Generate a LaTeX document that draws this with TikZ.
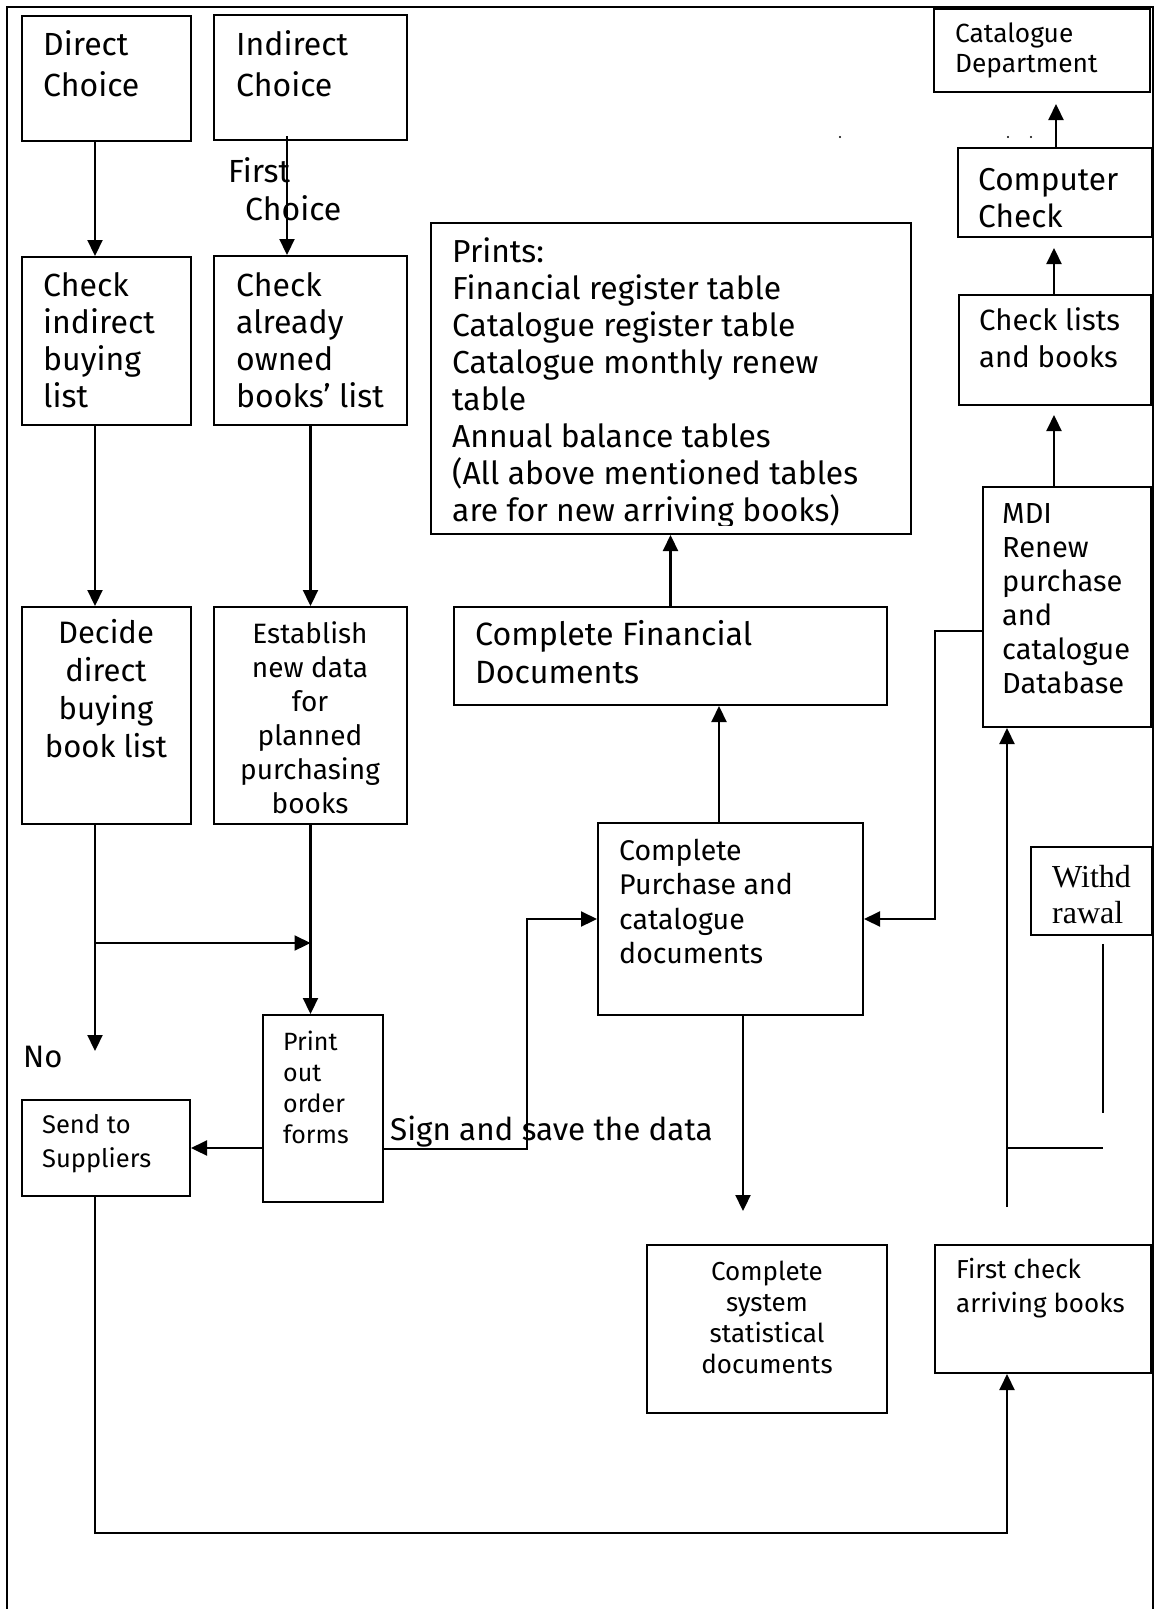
\documentclass[tikz,border=0pt]{standalone}
\usepackage{fontspec}
\setmainfont{Fira Sans}
\newfontfamily\tnr{Liberation Serif}
\usetikzlibrary{arrows.meta,fit,calc}
\newcommand\TL[6]{%
\node[anchor=north west, inner sep=0pt, align=left, font=\fontsize{#4}{#5}\selectfont] (#1) at (#2,{#3-0.7*#5}) {\strut #6};}
\newcommand\TC[6]{%
\node[anchor=north, inner sep=0pt, align=center, font=\fontsize{#4}{#5}\selectfont] (#1) at (#2,{#3-0.7*#5}) {\strut #6};}
\newcommand\BX[5]{\node[boxx, fit={(#2,#3) (#4,#5)}] (#1) {};}
\begin{document}
\begin{tikzpicture}[x=1pt,y=-1pt,
  boxx/.style={draw, line width=2pt, inner sep=0pt},
  arr/.style={line width=2.2pt, -{Triangle[length=16pt,width=15pt]}},
  thinl/.style={line width=1.4pt}]
\useasboundingbox (0,0) rectangle (1154,1609);
\fill[white] (0,0) rectangle (1154,1609);
% frame
\draw[line width=2pt] (7,1615) -- (7,7) -- (1153,7) -- (1153,1615);
% boxes
\BX{dc}{22}{16}{191}{141}
\BX{ic}{214}{15}{407}{140}
\BX{cd}{934}{9}{1150}{92}
\BX{cc}{958}{148}{1152}{237}
\BX{pr}{431}{223}{911}{534}
\BX{cib}{22}{257}{191}{425}
\BX{cao}{214}{256}{407}{425}
\BX{cl}{959}{295}{1151}{405}
\BX{mdi}{983}{487}{1151}{727}
\BX{dd}{22}{607}{191}{824}
\BX{en}{214}{607}{407}{824}
\BX{cfd}{454}{607}{887}{705}
\BX{cpc}{598}{823}{863}{1015}
\node[draw, line width=1.6pt, inner sep=0pt, fit={(1031,847) (1152,935)}] (wd) {};
\BX{st}{22}{1100}{190}{1196}
\BX{pf}{263}{1015}{383}{1202}
\BX{csd}{647}{1245}{887}{1413}
\BX{fca}{935}{1245}{1151}{1373}
% texts
\TL{tdc}{43}{55}{32}{41}{Direct\\Choice}
\TL{tic}{236}{55}{32}{41}{Indirect\\Choice}
\TL{tfc}{228}{182}{32}{38}{First\\\hspace*{17pt}Choice}
\TL{tcd}{955}{42}{26.3}{30}{Catalogue\\Department}
\TL{tcc}{978}{190}{31.6}{37}{Computer\\Check}
\begin{scope}
\clip (431,223) rectangle (911,525);
\TL{tpr}{452}{262}{31.8}{37}{Prints:\\Financial register table\\Catalogue register table\\Catalogue monthly renew\\table\\Annual balance tables\\(All above mentioned tables\\are for new arriving books)}
\end{scope}
\TL{tcib}{43}{296}{32}{37}{Check\\indirect\\buying\\list}
\TL{tcao}{236}{296}{32}{37}{Check\\already\\owned\\books’ list}
\TL{tcl}{979}{330}{29.3}{37}{Check lists\\and books}
\TL{tmdi}{1002}{523}{29}{34}{MDI\\Renew\\purchase\\and\\catalogue\\Database}
\TC{tdd}{106}{643}{31}{38}{Decide\\direct\\buying\\book list}
\TC{ten}{310}{643}{28}{34}{Establish\\new data\\for\\planned\\purchasing\\books}
\TL{tcfd}{475}{645}{32.2}{38}{Complete Financial\\Documents}
\TL{tcpc}{619}{860}{28.5}{34.5}{Complete\\Purchase and\\catalogue\\documents}
\node[anchor=north west, inner sep=0pt, align=left, font=\tnr\fontsize{32}{36}\selectfont] (twd) at (1052,{887-0.7*36}) {\strut Withd\\rawal};
\TL{tno}{23}{1067}{31}{37}{No}
\TL{tst}{42}{1133}{25.5}{34}{Send to\\Suppliers}
\TL{tpf}{283}{1050}{25}{31}{Print\\out\\order\\forms}
\TL{tsg}{390}{1140}{31.4}{36}{Sign and save the data}
\TC{tcsd}{767}{1280}{26}{31}{Complete\\system\\statistical\\documents}
\TL{tfca}{956}{1278}{26}{34}{First check\\arriving books}
% stray dots
\fill (840,137) circle (1.2pt);
\fill (1008,137) circle (1.2pt);
\fill (1031,137) circle (1.2pt);
% connectors
\draw[arr] ($(dc.south)+(-11.5,0)$) -- ($(cib.north)+(-11.5,0)$);
\draw[arr] ($(ic.south)+(-23.5,-5)$) -- ($(cao.north)+(-23.5,0)$);
\draw[arr] ($(cib.south)+(-11.5,0)$) -- ($(dd.north)+(-11.5,0)$);
\draw[arr] (cao.south) -- (en.north);
\coordinate (noend) at (95,1051);
\draw[arr] ($(dd.south)+(-11.5,0)$) -- (noend);
\coordinate (br) at (95,943);
\draw[arr] (br) -- (en.south |- br);
\draw[arr] (en.south) -- (en.south |- pf.north);
\draw[arr] (pf.west |- st.east) -- (st.east);
\coordinate (sg) at (527,1149);
\draw[arr] (pf.east |- sg) -- (sg) |- (cpc.west);
\draw[arr] ($(cpc.north)+(-11.5,0)$) -- ($(cpc.north |- cfd.south)+(-11.5,0)$);
\draw[arr] (cfd.north) -- (cfd.north |- pr.south);
\draw[arr] ($(cpc.south)+(12.5,0)$) -- ($(csd.north)+(-24,-33)$);
\coordinate (mb) at (935,631);
\draw[arr] (mdi.west |- mb) -- (mb) |- (cpc.east);
\coordinate (mu) at (1054,405);
\draw[arr] (mdi.north -| mu) -- ($(mu)+(0,10)$);
\draw[arr] (cl.north -| mu) -- ($(cc.south -| mu)+(0,10)$);
\coordinate (cu) at (1056,148);
\draw[arr] (cc.north -| cu) -- ($(cd.south -| cu)+(0,11)$);
\coordinate (bl) at (95,1533);
\coordinate (brr) at (1007,1533);
\draw[arr] ($(st.south)+(-11,0)$) -- (bl) -- (brr) -- ($(fca.south)+(-36,0)$);
\coordinate (lv) at (1007,1207);
\draw[arr] (lv) -- ($(mdi.south)+(-60,0)$);
\coordinate (lh) at (1007,1148);
\coordinate (lhe) at (1103,1148);
\draw[thinl] (lh) -- (lhe);
\draw[thinl] ($(wd.south)+(11.5,8)$) -- ($(wd.south)+(11.5,177)$);
\end{tikzpicture}
\end{document}
